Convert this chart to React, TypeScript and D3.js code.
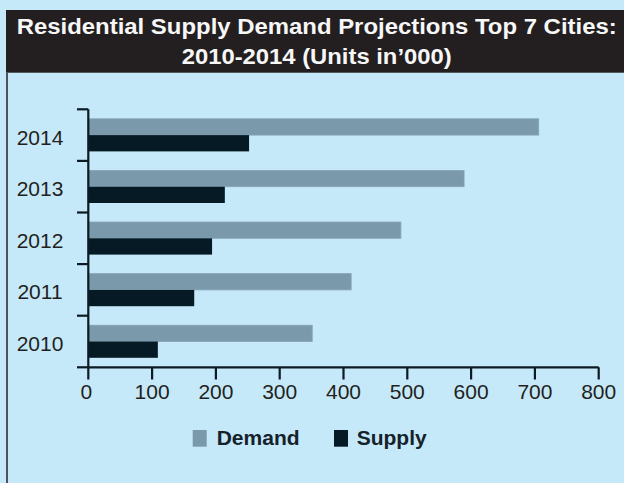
import React from "react";
import * as d3 from "d3";

const years = ["2014", "2013", "2012", "2011", "2010"];
const demand = [706, 589, 490, 412, 351];
const supply = [252, 214, 194, 166, 109];
const seriesNames = ["Demand", "Supply"];
const xTicks = [0, 100, 200, 300, 400, 500, 600, 700, 800];
const titleLines = [
  "Residential Supply Demand Projections Top 7 Cities:",
  "2010-2014 (Units in\u2019000)",
];

const W = 624;
const H = 483;
const BG = "#c6e9f9";
const HEADER = "#231f20";
const AXIS = "#0b1a23";
const TEXT = "#231f20";
const COLORS: Record<string, string> = { Demand: "#7a99aa", Supply: "#061a25" };
const FONT = "'Liberation Sans', Arial, Helvetica, sans-serif";

export default function App() {
  const x = d3.scaleLinear().domain([0, 800]).range([88.3, 598.7]);
  const y = d3.scaleBand<string>().domain(years).range([109.3, 367.3]).padding(0);
  const sub = d3
    .scaleBand<string>()
    .domain(seriesNames)
    .range([0, y.bandwidth()])
    .paddingInner(0)
    .paddingOuter(0.583);

  const values: Record<string, number[]> = { Demand: demand, Supply: supply };
  const boundaries = [...years.map((yr) => y(yr) as number), y.range()[1]];

  const legendItems = [
    { name: "Demand", sx: 192.7, tx: 216.7 },
    { name: "Supply", sx: 334, tx: 356.7 },
  ];

  return (
    <svg
      width={W}
      height={H}
      style={{ position: "absolute", left: 0, top: 0, display: "block" }}
      fontFamily={FONT}
    >
      <rect x={0} y={0} width={W} height={H} fill={BG} />
      {/* header band */}
      <rect x={6} y={10} width={W - 6} height={62.7} fill={HEADER} />
      <text
        x={16.7}
        y={33.8}
        fontSize={21.5}
        fontWeight="bold"
        fill="#f7f7f7"
        textLength={600}
        lengthAdjust="spacingAndGlyphs"
      >
        {titleLines[0]}
      </text>
      <text
        x={181.7}
        y={63.8}
        fontSize={21.5}
        fontWeight="bold"
        fill="#f7f7f7"
        textLength={270}
        lengthAdjust="spacingAndGlyphs"
      >
        {titleLines[1]}
      </text>
      {/* left border */}
      <rect x={6} y={72.7} width={2} height={H - 72.7} fill="#4d5358" />

      {/* bars */}
      {seriesNames.map((s) =>
        years.map((yr, i) => (
          <rect
            key={s + yr}
            x={x(0)}
            y={(y(yr) as number) + (sub(s) as number)}
            width={x(values[s][i]) - x(0)}
            height={sub.bandwidth()}
            fill={COLORS[s]}
            stroke={s === "Demand" ? "#88a5b5" : "none"}
            strokeWidth={s === "Demand" ? 0.8 : 0}
          />
        ))
      )}

      {/* y axis */}
      <line x1={x(0)} x2={x(0)} y1={y.range()[0]} y2={y.range()[1]} stroke={AXIS} strokeWidth={2.2} />
      {boundaries.map((b, i) => (
        <line key={"yt" + i} x1={77} x2={x(0)} y1={b} y2={b} stroke={AXIS} strokeWidth={2.2} />
      ))}
      {years.map((yr) => (
        <text
          key={"yl" + yr}
          x={40}
          y={(y(yr) as number) + y.bandwidth() / 2 + 9.5}
          fontSize={21}
          textAnchor="middle"
          fill={TEXT}
        >
          {yr}
        </text>
      ))}

      {/* x axis */}
      <line x1={x(0)} x2={x(800)} y1={y.range()[1]} y2={y.range()[1]} stroke={AXIS} strokeWidth={2.2} />
      {xTicks.map((t) => (
        <g key={"xt" + t}>
          <line x1={x(t)} x2={x(t)} y1={y.range()[1]} y2={379.5} stroke={AXIS} strokeWidth={2.2} />
          <text x={x(t) - (t === 0 ? 2 : 0)} y={399} fontSize={21} textAnchor="middle" fill={TEXT}>
            {t}
          </text>
        </g>
      ))}

      {/* legend */}
      {legendItems.map((l) => (
        <g key={"lg" + l.name}>
          <rect x={l.sx} y={430} width={14} height={16.7} fill={COLORS[l.name]} />
          <text x={l.tx} y={445} fontSize={21} fontWeight="bold" fill="#15222b">
            {l.name}
          </text>
        </g>
      ))}
    </svg>
  );
}
